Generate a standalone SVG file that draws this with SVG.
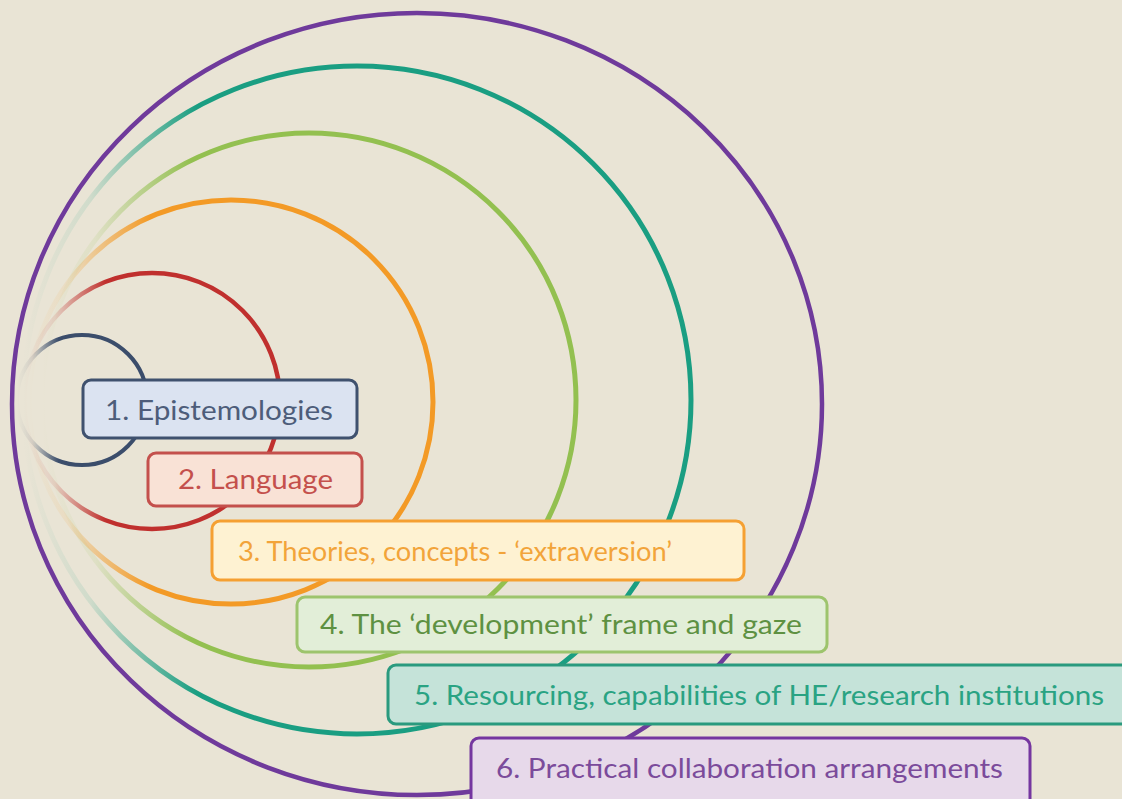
<svg xmlns="http://www.w3.org/2000/svg" width="1122" height="799" viewBox="0 0 1122 799">
  <style>
    .ring { fill: none; }
    .box rect { stroke-width: 3; }
    .box text { font-family: Lato, "Liberation Sans", sans-serif; font-size: 27px; }
  </style>
  <defs>
    <linearGradient id="gBlue" x1="0" y1="0" x2="1" y2="0">
      <stop offset="0" stop-color="#3b4d6b" stop-opacity="0"/>
      <stop offset="0.12" stop-color="#3b4d6b" stop-opacity="0.12"/>
      <stop offset="0.32" stop-color="#3b4d6b" stop-opacity="1"/>
    </linearGradient>
    <linearGradient id="gRed" x1="0" y1="0" x2="1" y2="0">
      <stop offset="0" stop-color="#c0302e" stop-opacity="0"/>
      <stop offset="0.12" stop-color="#c0302e" stop-opacity="0.12"/>
      <stop offset="0.32" stop-color="#c0302e" stop-opacity="1"/>
    </linearGradient>
    <linearGradient id="gOrange" x1="0" y1="0" x2="1" y2="0">
      <stop offset="0" stop-color="#f39a26" stop-opacity="0"/>
      <stop offset="0.1" stop-color="#f39a26" stop-opacity="0.12"/>
      <stop offset="0.3" stop-color="#f39a26" stop-opacity="1"/>
    </linearGradient>
    <linearGradient id="gGreen" x1="0" y1="0" x2="1" y2="0">
      <stop offset="0" stop-color="#93c050" stop-opacity="0"/>
      <stop offset="0.1" stop-color="#93c050" stop-opacity="0.12"/>
      <stop offset="0.28" stop-color="#93c050" stop-opacity="1"/>
    </linearGradient>
    <linearGradient id="gTeal" x1="0" y1="0" x2="1" y2="0">
      <stop offset="0" stop-color="#1a9e82" stop-opacity="0"/>
      <stop offset="0.1" stop-color="#1a9e82" stop-opacity="0.12"/>
      <stop offset="0.26" stop-color="#1a9e82" stop-opacity="1"/>
    </linearGradient>
  </defs>
  <rect x="0" y="0" width="1122" height="799" fill="#e9e4d5"/>

  <g id="connectors">
    <ellipse class="ring" cx="417" cy="404" rx="405" ry="391" stroke="#6f3a9b" stroke-width="4.5"/>
    <circle class="ring" cx="357" cy="400" r="334" stroke="url(#gTeal)" stroke-width="5"/>
    <circle class="ring" cx="309" cy="400" r="267" stroke="url(#gGreen)" stroke-width="5"/>
    <circle class="ring" cx="231" cy="402" r="202" stroke="url(#gOrange)" stroke-width="5"/>
    <circle class="ring" cx="152" cy="401" r="128" stroke="url(#gRed)" stroke-width="4.5"/>
    <circle class="ring" cx="82" cy="400" r="65" stroke="url(#gBlue)" stroke-width="4"/>
  </g>

  <g id="node1" class="box">
    <rect x="83" y="380" width="274" height="58" rx="8" fill="#dbe3f1" stroke="#3f516e"/>
    <text x="105" y="420" fill="#4d5d7a" textLength="228" lengthAdjust="spacingAndGlyphs">1. Epistemologies</text>
  </g>
  <g id="node2" class="box">
    <rect x="148" y="453" width="214" height="53" rx="8" fill="#f9e2d6" stroke="#c4504c"/>
    <text x="178" y="489" fill="#c4504c" textLength="155" lengthAdjust="spacingAndGlyphs">2. Language</text>
  </g>
  <g id="node3" class="box">
    <rect x="212" y="521" width="532" height="59" rx="8" fill="#fef2d2" stroke="#f5a032"/>
    <text x="238" y="561" fill="#f2a43a" textLength="434" lengthAdjust="spacingAndGlyphs">3. Theories, concepts - ‘extraversion’</text>
  </g>
  <g id="node4" class="box">
    <rect x="297" y="597" width="530" height="55" rx="8" fill="#e2eed8" stroke="#9dc46d"/>
    <text x="320" y="634" fill="#5e9142" textLength="482" lengthAdjust="spacingAndGlyphs">4. The ‘development’ frame and gaze</text>
  </g>
  <g id="node5" class="box">
    <rect x="388" y="665" width="750" height="59" rx="8" fill="#c5e3d9" stroke="#2a9a7e"/>
    <text x="414" y="705" fill="#2aa383" textLength="690" lengthAdjust="spacingAndGlyphs">5. Resourcing, capabilities of HE/research institutions</text>
  </g>
  <g id="node6" class="box">
    <rect x="471" y="738" width="559" height="75" rx="8" fill="#e7d9ea" stroke="#7536a0"/>
    <text x="496" y="778" fill="#7b4b9b" textLength="507" lengthAdjust="spacingAndGlyphs">6. Practical collaboration arrangements</text>
  </g>
</svg>
